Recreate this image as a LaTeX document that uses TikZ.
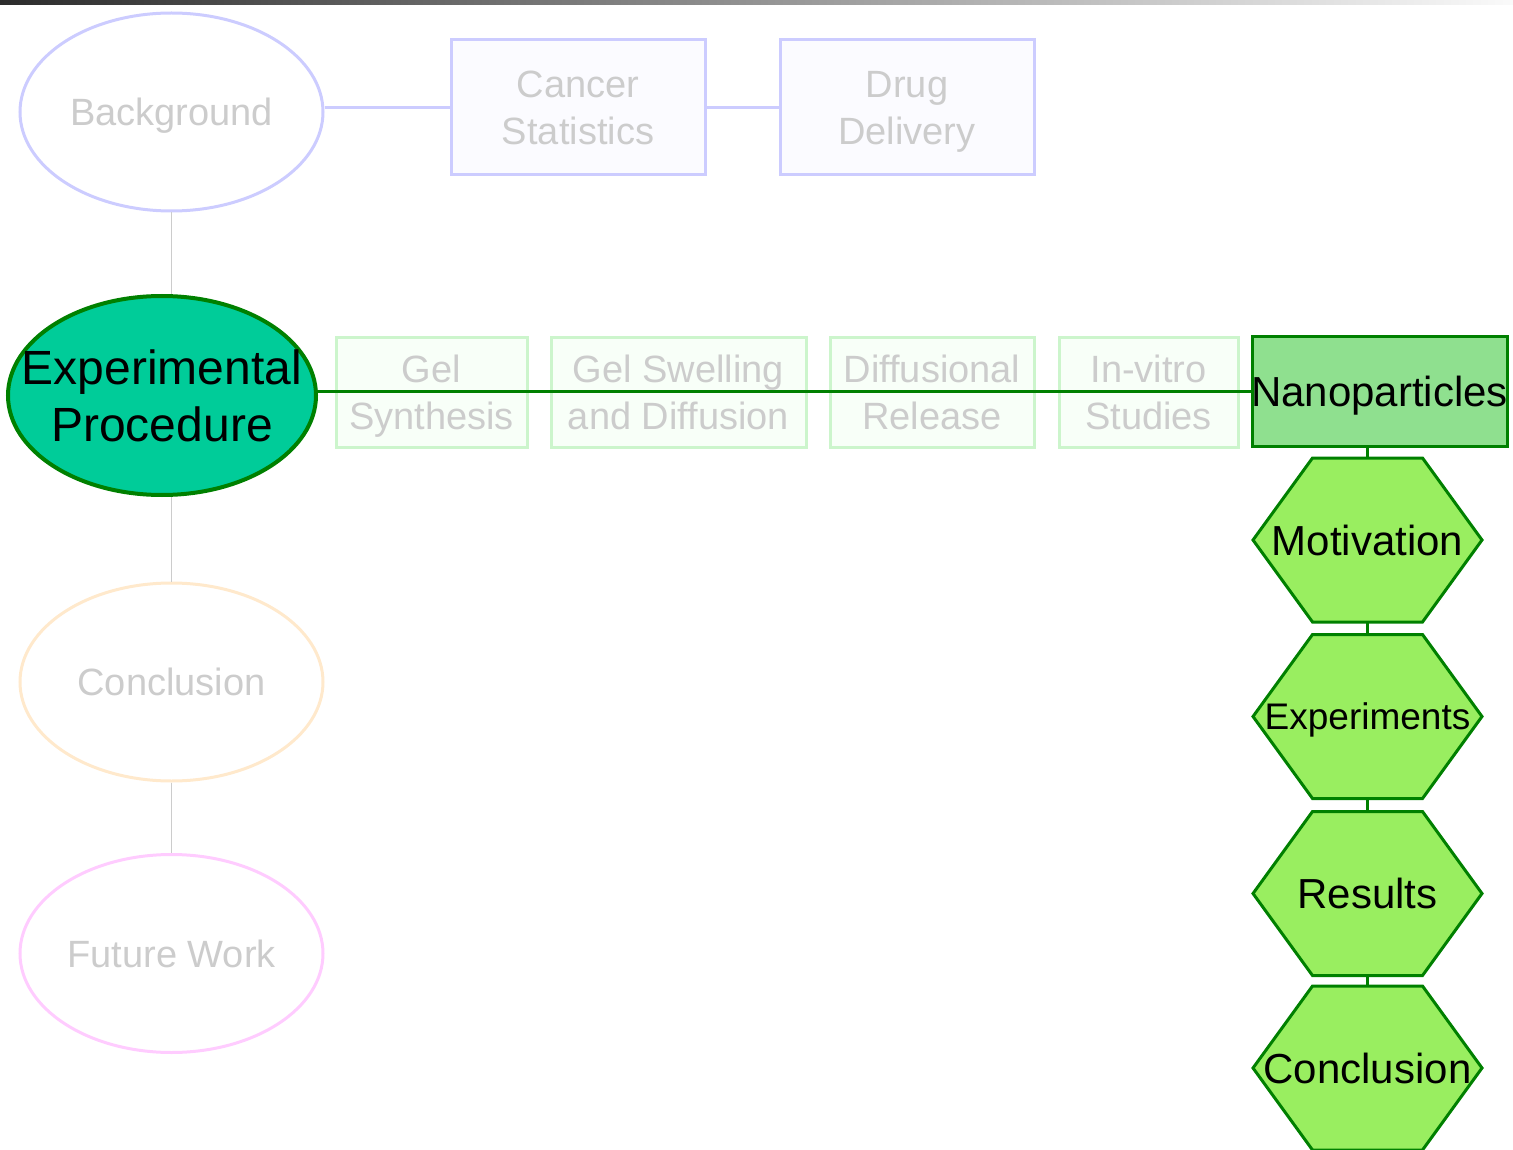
\documentclass[tikz,border=0pt]{standalone}
\usepackage{fontspec}
\setmainfont{Liberation Sans}
\usetikzlibrary{shapes.geometric}

\definecolor{barleft}{HTML}{2C2C2C}
\definecolor{barright}{HTML}{FAFAFA}
\definecolor{fadetext}{HTML}{CCCCCC}
\definecolor{bgblue}{HTML}{CCCCFF}
\definecolor{cardblue}{HTML}{FBFBFF}
\definecolor{concorange}{HTML}{FFE9CC}
\definecolor{futpink}{HTML}{FFCCFF}
\definecolor{fadegreen}{HTML}{CCF5CC}
\definecolor{cardgreen}{HTML}{F8FFF8}
\definecolor{dkgreen}{HTML}{008000}
\definecolor{expfill}{HTML}{00CC99}
\definecolor{nanofill}{HTML}{8FE08F}
\definecolor{hexfill}{HTML}{99EE60}
\definecolor{greyline}{HTML}{CCCCCC}

% uniform line height/depth so every line sits on the same grid
\newcommand\lnstrut{\rule[-0.184em]{0pt}{1.084em}}

\tikzset{
  % fixed text box for one-line labels, given the font size in pt
  oneline/.style={text height={0.9*#1 pt}, text depth={0.184*#1 pt}},
  topic/.style={ellipse, draw, line width=3pt, fill=white,
    minimum width=303pt, minimum height=198pt, inner sep=0pt, oneline=38,
    text=fadetext, font=\fontsize{38}{47}\selectfont},
  card/.style={rectangle, draw, line width=3pt, inner sep=0pt, align=center,
    text=fadetext, font=\fontsize{38}{47}\selectfont},
  bluecard/.style={card, draw=bgblue, fill=cardblue,
    minimum width=254pt, minimum height=135pt},
  greencard/.style={card, draw=fadegreen, fill=cardgreen, minimum height=109pt},
  hexbox/.style={rectangle, draw=none, inner sep=0pt, oneline=42,
    minimum width=229pt, minimum height=164pt, font=\fontsize{42}{50}\selectfont},
  hexshape/.style={draw=dkgreen, fill=hexfill, line width=3pt, line join=miter},
  greyconn/.style={draw=greyline, line width=1.5pt},
  blueconn/.style={draw=bgblue, line width=3pt},
  greenconn/.style={draw=dkgreen, line width=3pt},
}

\begin{document}
\begin{tikzpicture}[x=1pt,y=-1pt]
\path[use as bounding box] (0,0) rectangle (1513,1150);

% header strip
\shade[left color=barleft, right color=barright] (0,0) rectangle (1513,5);

% main topics on the left
\node[topic, draw=bgblue] (bg) at (171.5,112) {Background};
\node[ellipse, draw=dkgreen, line width=4pt, fill=expfill,
      minimum width=308pt, minimum height=199pt, inner sep=0pt, align=center,
      font=\fontsize{48}{57}\selectfont] (exp) at (162,395.5)
      {\makebox[0pt]{\lnstrut Experimental}\\\makebox[0pt]{\lnstrut Procedure}};
\node[topic, draw=concorange] (conc) at (171.5,682) {Conclusion};
\node[topic, draw=futpink] (fut) at (171.5,953.5) {Future Work};

% background subtopics
\node[bluecard] (cs) at (578,107.5) {\lnstrut Cancer\\\lnstrut Statistics};
\node[bluecard] (dd) at (907,107.5) {\lnstrut Drug\\\lnstrut Delivery};

% experimental subtopics
\node[greencard, minimum width=191pt] (gs) at (431.5,392.5) {\lnstrut Gel\\\lnstrut Synthesis};
\node[greencard, minimum width=255pt] (gsd) at (678.5,392.5) {\lnstrut Gel Swelling\\\lnstrut and Diffusion};
\node[greencard, minimum width=204pt] (dr) at (932,392.5) {\lnstrut Diffusional\\\lnstrut Release};
\node[greencard, minimum width=179pt] (iv) at (1148.5,392.5) {\lnstrut In-vitro\\\lnstrut Studies};
\node[rectangle, draw=dkgreen, fill=nanofill, line width=3pt, inner sep=0pt,
      minimum width=255pt, minimum height=109pt, oneline=42,
      font=\fontsize{42}{50}\selectfont] (nano) at (1379.5,391.5)
      {\makebox[250pt]{Nanoparticles}};

% hexagon steps
\path[hexshape, shift={(1367.5,540)}] (-114.5,0) -- (-55,-82) -- (55,-82) -- (114.5,0) -- (55,82) -- (-55,82) -- cycle;
\node[hexbox] (mot) at (1367.5,540) {Motivation};
\path[hexshape, shift={(1367.5,716.5)}] (-114.5,0) -- (-55,-82) -- (55,-82) -- (114.5,0) -- (55,82) -- (-55,82) -- cycle;
\node[hexbox, oneline=37, font=\fontsize{37}{44}\selectfont] (expt) at (1367.5,716.5) {Experiments};
\path[hexshape, shift={(1367.5,893.5)}] (-114.5,0) -- (-55,-82) -- (55,-82) -- (114.5,0) -- (55,82) -- (-55,82) -- cycle;
\node[hexbox] (res) at (1367.5,893.5) {Results};
\path[hexshape, shift={(1367.5,1068)}] (-114.5,0) -- (-55,-82) -- (55,-82) -- (114.5,0) -- (55,82) -- (-55,82) -- cycle;
\node[hexbox] (hconc) at (1367.5,1068) {Conclusion};

% connectors
\draw[greyconn] (bg.south) -- (bg.south |- exp.north);
\draw[greyconn] (conc.north |- exp.south) -- (conc.north);
\draw[greyconn] (conc.south) -- (fut.north);
\draw[blueconn] (bg.east |- cs.west) -- (cs.west);
\draw[blueconn] (cs.east) -- (dd.west);
\draw[greenconn] (exp.east |- nano.west) -- (nano.west);
\draw[greenconn] (mot.north |- nano.south) -- (mot.north);
\draw[greenconn] (mot.south) -- (expt.north);
\draw[greenconn] (expt.south) -- (res.north);
\draw[greenconn] (res.south) -- (hconc.north);
\end{tikzpicture}
\end{document}
